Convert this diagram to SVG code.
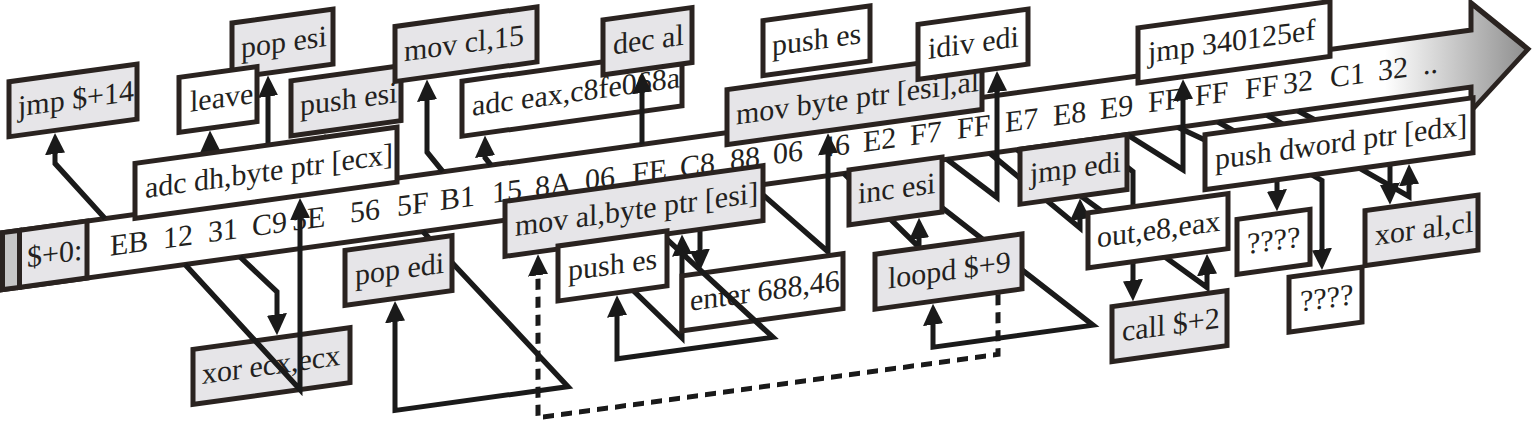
<svg xmlns="http://www.w3.org/2000/svg" width="1534" height="423" viewBox="0 0 1534 423">
<defs>
<style>
.bx{stroke:#2a2320;stroke-width:5}
.g{fill:#e6e5e8}
.w{fill:#ffffff}
.t{font-family:"Liberation Serif","Times New Roman",serif;font-size:30px;fill:#231f20}
.c{fill:none;stroke:#1a1a1a;stroke-width:5;stroke-linejoin:miter;marker-end:url(#ah)}
.d{stroke-dasharray:11 7}
</style>
<marker id="ah" viewBox="0 -11 22 22" refX="1" refY="0" markerWidth="22" markerHeight="22" markerUnits="userSpaceOnUse" orient="auto"><path d="M0,-10 L21,0 L0,10 Z" fill="#1a1a1a"/></marker>
<linearGradient id="bandGrad" gradientUnits="userSpaceOnUse" x1="1385" y1="0" x2="1530" y2="0"><stop offset="0" stop-color="#ffffff"/><stop offset="1" stop-color="#8c8c8c"/></linearGradient>
</defs>
<rect width="1534" height="423" fill="#ffffff"/>
<g transform="matrix(1 -0.138 0 1 0 0)">
<g id="band">
<path class="bx" fill="url(#bandGrad)" d="M2.5,233 H1471 V206 L1528,260 L1471,314 V290 H2.5 Z"/>
<rect class="bx" fill="#c6c6c6" x="2.5" y="233" width="17" height="57"/>
<rect class="bx g" x="19.5" y="233" width="67.5" height="57"/>
<text class="t" x="27" y="271">$+0:</text>
<text class="t" y="271"><tspan x="110">EB</tspan><tspan x="163">12</tspan><tspan x="208">31</tspan><tspan x="252">C9</tspan><tspan x="292">5E</tspan><tspan x="350">56</tspan><tspan x="397">5F</tspan><tspan x="440">B1</tspan><tspan x="492">15</tspan><tspan x="535">8A</tspan><tspan x="585">06</tspan><tspan x="632">FE</tspan><tspan x="680">C8</tspan><tspan x="730">88</tspan><tspan x="773">06</tspan><tspan x="820">46</tspan><tspan x="863">E2</tspan><tspan x="910">F7</tspan><tspan x="957">FF</tspan><tspan x="1005">E7</tspan><tspan x="1053">E8</tspan><tspan x="1100">E9</tspan><tspan x="1148">FF</tspan><tspan x="1195">FF</tspan><tspan x="1245">FF</tspan><tspan x="1283">32</tspan><tspan x="1330">C1</tspan><tspan x="1378">32</tspan><tspan x="1423">..</tspan></text>
</g>
<g id="connectors-back">
<path class="c" d="M105,233 L55,171 L55,160.5"/>
<path class="c" d="M210,236 L210,179.5"/>
<path class="c" d="M268,236 L268,132.5"/>
<path class="c" d="M325,236 L325,198.5"/>
<path class="c" d="M423,290 L568,465 L395,465 L395,375.5"/>
<path class="c" d="M443,233 L427,211 L427,158.5"/>
<path class="c" d="M491,233 L485,224.5 L485,222.5"/>
<path class="c" d="M554,290 L682,432 L682,348.5"/>
<path class="c" d="M700,300 L700,347.5"/>
<path class="c" d="M753,290 L828,366 L828,267.5"/>
<path class="c" d="M844,290 L919,374 L919,364.5"/>
<path class="c" d="M890,290 L1093,476 L933,476 L933,452.5"/>
<path class="c d" d="M998,432 L998,492 L538,492 L538,348.5"/>
<path class="c" d="M947,290 L997,335 L997,228.5"/>
<path class="c" d="M990,290 L1080,377 L1080,367.5"/>
<path class="c" d="M1017,290 L1207,454 L1207,440.5"/>
<path class="c" d="M1092,290 L1133,328 L1133,437.5"/>
<path class="c" d="M1127,290 L1183,333 L1183,262.5"/>
<path class="c" d="M1267,290 L1409,391 L1409,378.5"/>
<path class="c" d="M1178,290 L1277,350 L1277,367.5"/>
<path class="c" d="M1218,290 L1322,363 L1322,432.5"/>
<path class="c" d="M1298,290 L1390,352 L1390,376.5"/>
</g>
<g id="n-jmp14"><rect class="bx g" x="9" y="83" width="128" height="55"/><text class="t" x="18" y="119">jmp $+14</text></g>
<g id="n-popesi"><rect class="bx g" x="232" y="55" width="101" height="55"/><text class="t" x="241" y="91">pop esi</text></g>
<g id="n-leave"><rect class="bx w" x="179" y="102" width="78" height="55"/><text class="t" x="190" y="138">leave</text></g>
<g id="n-pushesi"><rect class="bx g" x="291" y="121" width="110" height="55"/><text class="t" x="300" y="157">push esi</text></g>
<g id="n-movcl"><rect class="bx g" x="395" y="81" width="142" height="55"/><text class="t" x="404" y="117">mov cl,15</text></g>
<g id="n-adcdh"><rect class="bx w" x="135" y="182" width="262" height="55"/><text class="t" x="145" y="218">adc dh,byte ptr [ecx]</text></g>
<g id="n-adceax"><rect class="bx w" x="462" y="145" width="220" height="55"/><text class="t" x="472" y="181">adc eax,c8fe068a</text></g>
<g id="n-decal"><rect class="bx g" x="603" y="103" width="89" height="55"/><text class="t" x="613" y="139">dec al</text></g>
<g id="n-pushes1"><rect class="bx w" x="763" y="126" width="107" height="55"/><text class="t" x="772" y="162">push es</text></g>
<g id="n-movbyte"><rect class="bx g" x="727" y="190" width="255" height="55"/><text class="t" x="736" y="226">mov byte ptr [esi],al</text></g>
<g id="n-idiv"><rect class="bx w" x="918" y="151" width="110" height="55"/><text class="t" x="928" y="187">idiv edi</text></g>
<g id="n-jmp340"><rect class="bx w" x="1138" y="185" width="192" height="55"/><text class="t" x="1148" y="221">jmp 340125ef</text></g>
<g id="n-pushdword"><rect class="bx w" x="1205" y="301" width="268" height="55"/><text class="t" x="1215" y="337">push dword ptr [edx]</text></g>
<g id="n-xorecx"><rect class="bx g" x="193" y="376" width="157" height="55"/><text class="t" x="202" y="412">xor ecx,ecx</text></g>
<g id="n-popedi"><rect class="bx g" x="345" y="298" width="107" height="55"/><text class="t" x="355" y="334">pop edi</text></g>
<g id="n-enter"><rect class="bx w" x="682" y="370" width="161" height="55"/><text class="t" x="690" y="406">enter 688,46</text></g>
<g id="n-incesi"><rect class="bx g" x="849" y="287" width="93" height="55"/><text class="t" x="858" y="322">inc esi</text></g>
<g id="n-loopd"><rect class="bx g" x="875" y="375" width="147" height="55"/><text class="t" x="888" y="411">loopd $+9</text></g>
<g id="n-jmpedi"><rect class="bx g" x="1020" y="290" width="107" height="55"/><text class="t" x="1030" y="326">jmp edi</text></g>
<g id="n-out"><rect class="bx w" x="1088" y="363" width="140" height="55"/><text class="t" x="1097" y="399">out,e8,eax</text></g>
<g id="n-call"><rect class="bx g" x="1112" y="460" width="115" height="55"/><text class="t" x="1122" y="496">call $+2</text></g>
<g id="n-q1"><rect class="bx w" x="1237" y="390" width="73" height="55"/><text class="t" x="1247" y="426">????</text></g>
<g id="n-q2"><rect class="bx w" x="1289" y="455" width="73" height="55"/><text class="t" x="1300" y="491">????</text></g>
<g id="n-xoral"><rect class="bx g" x="1365" y="399" width="113" height="55"/><text class="t" x="1375" y="435">xor al,cl</text></g>
<g id="connectors-front">
<path class="c" d="M185,290 L300,431 L300,259.5"/>
<path class="c" d="M240,290 L277,330 L277,353.5"/>
<path class="c" d="M642,233 L642,180.5"/>
<path class="c" d="M628,290 L773,444 L617,444 L617,400.5"/>
</g>
<g id="n-moval"><rect class="bx g" x="505" y="271" width="258" height="55"/><text class="t" x="515" y="307">mov al,byte ptr [esi]</text></g>
<g id="n-pushes2"><rect class="bx w" x="558" y="323" width="109" height="55"/><text class="t" x="568" y="359">push es</text></g>
</g>
</svg>
